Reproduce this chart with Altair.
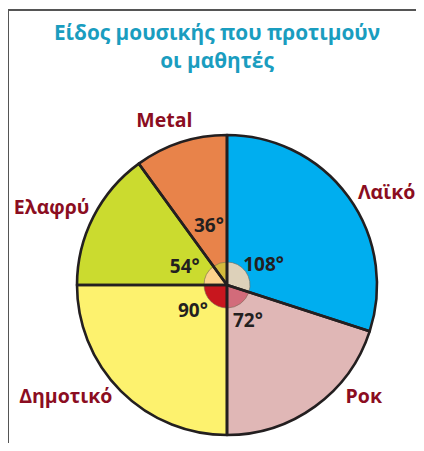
import altair as alt
import numpy as np
import pandas as pd

title_lines = ["Είδος μουσικής που προτιμούν", "οι μαθητές"]
categories = ["Λαϊκό", "Ροκ", "Δημοτικό", "Ελαφρύ", "Metal"]
degrees = [108, 72, 90, 54, 36]
degree_labels = ["108°", "72°", "90°", "54°", "36°"]
slice_colors = ["#00AEEF", "#E0B7B6", "#FDF26E", "#CBDB2F", "#E8834A"]
inner_colors = ["#DDD1BA", "#D26B7A", "#C8161E", "#FDD28C", "#D4BA3C"]

deg = np.array(degrees, dtype=float)
mid = np.cumsum(deg) - deg / 2
df = pd.DataFrame({
    "cat": categories,
    "deg": degrees,
    "order": list(range(len(categories))),
    "mid": mid,
    "dlabel": degree_labels,
})

W, H = 408, 435
CX, CY = 219, 277
R = 150
FONT = "Open Sans"
LINE = "#231F20"

theta_scale = alt.Scale(domain=[0, 360])
base = alt.Chart(df)

pie_fill = base.mark_arc(outerRadius=R, strokeWidth=0).encode(
    theta=alt.Theta("deg:Q", stack=True, scale=theta_scale),
    order=alt.Order("order:Q"),
    color=alt.Color("cat:N", scale=alt.Scale(domain=categories, range=slice_colors), legend=None),
    x=alt.value(CX), y=alt.value(CY),
)

inner = base.mark_arc(outerRadius=23, stroke="#7a6655", strokeWidth=0.6).encode(
    theta=alt.Theta("deg:Q", stack=True, scale=theta_scale),
    order=alt.Order("order:Q"),
    fill=alt.Fill("cat:N", scale=alt.Scale(domain=categories, range=inner_colors), legend=None),
    x=alt.value(CX), y=alt.value(CY),
)

outline = base.mark_arc(outerRadius=R, fillOpacity=0, stroke=LINE, strokeWidth=2.6,
                        strokeJoin="round").encode(
    theta=alt.Theta("deg:Q", stack=True, scale=theta_scale),
    order=alt.Order("order:Q"),
    x=alt.value(CX), y=alt.value(CY),
)

# label nudges (pixels) relative to the slice mid-angle position
cat_nudge = {"Λαϊκό": (14, 14), "Ροκ": (31, -34), "Δημοτικό": (-34, -15),
             "Ελαφρύ": (-15, 5), "Metal": (-7, 7)}
deg_nudge = {"Λαϊκό": (1, 6), "Ροκ": (-5, 0), "Δημοτικό": (-3, -5),
             "Ελαφρύ": (-3, 2), "Metal": (1, 0)}
deg_radius = {"Λαϊκό": 44, "Ροκ": 44, "Δημοτικό": 44, "Ελαφρύ": 44, "Metal": 62}

layers = [pie_fill, inner, outline]
for c in categories:
    dx, dy = cat_nudge[c]
    layers.append(
        base.transform_filter(alt.datum.cat == c).mark_text(
            radius=180, dx=dx, dy=dy, font=FONT, fontSize=19.5, fontWeight="bold",
            color="#8B0D21", align="center", baseline="middle",
        ).encode(
            theta=alt.Theta("mid:Q", stack=None, scale=theta_scale),
            text="cat:N", x=alt.value(CX), y=alt.value(CY),
        )
    )
    dx, dy = deg_nudge[c]
    layers.append(
        base.transform_filter(alt.datum.cat == c).mark_text(
            radius=deg_radius[c], dx=dx, dy=dy, font=FONT, fontSize=19, fontWeight="bold",
            color=LINE, align="center", baseline="middle",
        ).encode(
            theta=alt.Theta("mid:Q", stack=None, scale=theta_scale),
            text="dlabel:N", x=alt.value(CX), y=alt.value(CY),
        )
    )

one = alt.Chart(pd.DataFrame({"a": [0]}))
title = one.mark_text(text=title_lines, font=FONT, fontSize=20.8, fontWeight="bold",
                      color="#1A9DBF", align="center", baseline="middle", lineHeight=28).encode(
    x=alt.value(209), y=alt.value(26))
top_rule = one.mark_rule(color="#555555", strokeWidth=2).encode(
    x=alt.value(0), x2=alt.value(W), y=alt.value(2))
left_rule = one.mark_rule(color="#555555", strokeWidth=2).encode(
    x=alt.value(0), y=alt.value(1), y2=alt.value(H))

chart = alt.layer(top_rule, left_rule, title, *layers).properties(
    width=W, height=H, padding=0, autosize=alt.AutoSizeParams(type="none")
).configure_view(stroke=None)

chart.save("out.html", embed_options={"renderer": "svg", "actions": False})
